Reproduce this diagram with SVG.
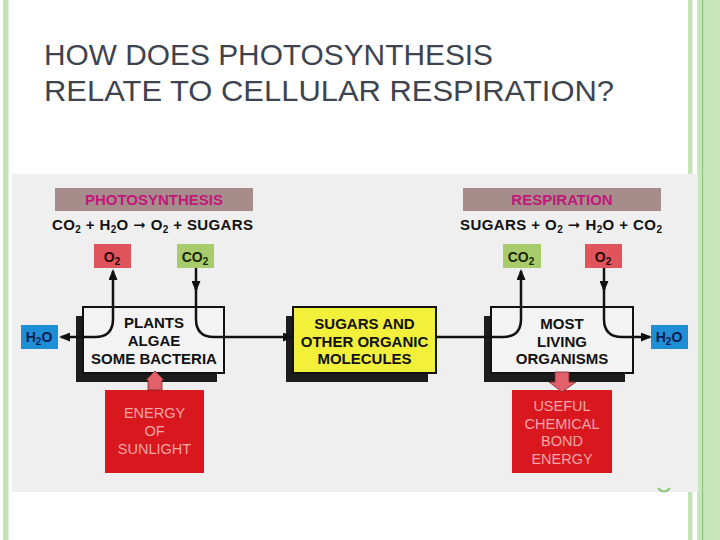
<svg xmlns="http://www.w3.org/2000/svg" width="720" height="540" viewBox="0 0 720 540">
  <defs>
    <marker id="ah" markerUnits="userSpaceOnUse" markerWidth="11" markerHeight="9" refX="9" refY="4.5" orient="auto-start-reverse">
      <path d="M0,0 L11,4.5 L0,9 Z" fill="#111"/>
    </marker>
    <style>
      .title { font-family: "Liberation Sans", Arial, sans-serif; font-size: 30px; fill: #3d4450; }
      .lbl { font-family: "Liberation Sans", Arial, sans-serif; font-weight: bold; font-size: 15px; fill: #111; text-anchor: middle; }
      .eq { font-family: "Liberation Sans", "DejaVu Sans", Arial, sans-serif; font-weight: bold; font-size: 15px; fill: #111; }
      .sub { font-size: 10px; }
      .arr { font-family: "DejaVu Sans", sans-serif; font-size: 15px; }
      .ban { fill: #a78c8c; }
      .bantxt { font-family: "Liberation Sans", Arial, sans-serif; font-weight: bold; font-size: 15px; fill: #c2177a; text-anchor: middle; }
      .small { font-family: "Liberation Sans", Arial, sans-serif; font-weight: bold; font-size: 14px; text-anchor: middle; }
      .o2 { fill: #e0545c; }
      .co2 { fill: #a8cb6c; }
      .h2o { fill: #1e8fd6; }
      .box { fill: #f3f3f3; stroke: #111; stroke-width: 2; }
      .shadow { fill: #1c1c1c; }
      .red { fill: #d8171f; }
      .redtxt { font-family: "Liberation Sans", Arial, sans-serif; font-size: 14.5px; fill: #f5a6a6; text-anchor: middle; }
      .conn { fill: none; stroke: #111; stroke-width: 2.5; }
      .blk { fill: #e1606a; stroke: #7a2a30; stroke-width: 0.8; }
    </style>
  </defs>

  <rect x="0" y="0" width="720" height="540" fill="#ffffff"/>
  <!-- slide decorations -->
  <rect x="3" y="0" width="5.5" height="540" fill="#c4e2b4"/>
  <rect x="688" y="0" width="4.5" height="540" fill="#c6e4b8"/>
  <rect x="697" y="0" width="23" height="540" fill="#c8e6bc"/>
  <rect x="702" y="0" width="1.2" height="540" fill="#8fc67e"/>

  <!-- title -->
  <g id="title">
    <text class="title" x="44" y="65" textLength="449" lengthAdjust="spacingAndGlyphs">HOW DOES PHOTOSYNTHESIS</text>
    <text class="title" x="44" y="101" textLength="570" lengthAdjust="spacingAndGlyphs">RELATE TO CELLULAR RESPIRATION?</text>
  </g>

  <!-- picture background -->
  <rect x="12" y="174" width="686" height="318" fill="#efefef"/>

  <!-- photosynthesis header -->
  <g id="photosynthesis-header">
    <rect class="ban" x="55" y="188" width="198" height="23"/>
    <text class="bantxt" x="154" y="205">PHOTOSYNTHESIS</text>
    <text class="eq" x="52" y="230" textLength="201" lengthAdjust="spacing">CO<tspan class="sub" dy="3">2</tspan><tspan dy="-3"> + H</tspan><tspan class="sub" dy="3">2</tspan><tspan dy="-3">O </tspan><tspan class="arr">➞</tspan><tspan> O</tspan><tspan class="sub" dy="3">2</tspan><tspan dy="-3"> + SUGARS</tspan></text>
  </g>

  <!-- respiration header -->
  <g id="respiration-header">
    <rect class="ban" x="463" y="188" width="198" height="23"/>
    <text class="bantxt" x="562" y="205">RESPIRATION</text>
    <text class="eq" x="460" y="230" textLength="202" lengthAdjust="spacing">SUGARS + O<tspan class="sub" dy="3">2</tspan><tspan dy="-3"> </tspan><tspan class="arr">➞</tspan><tspan> H</tspan><tspan class="sub" dy="3">2</tspan><tspan dy="-3">O + CO</tspan><tspan class="sub" dy="3">2</tspan></text>
  </g>

  <!-- small boxes -->
  <g id="o2-left">
    <rect class="o2" x="94" y="244" width="37" height="24"/>
    <text class="small" x="112" y="262" fill="#2a0808">O<tspan class="sub" dy="3">2</tspan></text>
  </g>
  <g id="co2-left">
    <rect class="co2" x="177" y="244" width="37" height="24"/>
    <text class="small" x="195" y="262" fill="#1a2608">CO<tspan class="sub" dy="3">2</tspan></text>
  </g>
  <g id="co2-right">
    <rect class="co2" x="503" y="244" width="38" height="24"/>
    <text class="small" x="521" y="262" fill="#1a2608">CO<tspan class="sub" dy="3">2</tspan></text>
  </g>
  <g id="o2-right">
    <rect class="o2" x="585" y="244" width="37" height="24"/>
    <text class="small" x="603" y="262" fill="#2a0808">O<tspan class="sub" dy="3">2</tspan></text>
  </g>
  <g id="h2o-left">
    <rect class="h2o" x="21" y="325" width="37" height="24"/>
    <text class="small" x="39" y="342" fill="#0a2050">H<tspan class="sub" dy="3">2</tspan><tspan dy="-3">O</tspan></text>
  </g>
  <g id="h2o-right">
    <rect class="h2o" x="651" y="325" width="37" height="24"/>
    <text class="small" x="669" y="342" fill="#0a2050">H<tspan class="sub" dy="3">2</tspan><tspan dy="-3">O</tspan></text>
  </g>

  <!-- main boxes -->
  <g id="plants">
    <rect class="shadow" x="76" y="316" width="141" height="66"/>
    <rect class="box" x="83" y="307" width="141" height="66"/>
    <text class="lbl" x="154" y="328">PLANTS</text>
    <text class="lbl" x="154" y="346">ALGAE</text>
    <text class="lbl" x="154" y="364">SOME BACTERIA</text>
  </g>
  <g id="sugars">
    <rect class="shadow" x="286" y="316" width="142" height="66"/>
    <rect x="293" y="307" width="143" height="66" fill="#f3f03c" stroke="#111" stroke-width="2"/>
    <text class="lbl" x="364.5" y="329">SUGARS AND</text>
    <text class="lbl" x="364.5" y="346.5">OTHER ORGANIC</text>
    <text class="lbl" x="364.5" y="364">MOLECULES</text>
  </g>
  <g id="organisms">
    <rect class="shadow" x="484" y="316" width="141" height="66"/>
    <rect class="box" x="491" y="307" width="142" height="66"/>
    <text class="lbl" x="562" y="329">MOST</text>
    <text class="lbl" x="562" y="346.5">LIVING</text>
    <text class="lbl" x="562" y="364">ORGANISMS</text>
  </g>

  <!-- energy boxes -->
  <g id="sunlight">
    <rect class="red" x="105" y="390" width="99" height="83"/>
    <text class="redtxt" x="154.5" y="418">ENERGY</text>
    <text class="redtxt" x="154.5" y="436">OF</text>
    <text class="redtxt" x="154.5" y="454">SUNLIGHT</text>
  </g>
  <g id="chemical-energy">
    <rect class="red" x="512" y="390" width="100" height="83"/>
    <text class="redtxt" x="562" y="411">USEFUL</text>
    <text class="redtxt" x="562" y="428.5">CHEMICAL</text>
    <text class="redtxt" x="562" y="446">BOND</text>
    <text class="redtxt" x="562" y="463.5">ENERGY</text>
  </g>

  <!-- connectors (drawn over the boxes) -->
  <g id="connectors">
    <path class="conn" d="M61,337 H95 Q113,337 113,319 V271" marker-start="url(#ah)" marker-end="url(#ah)"/>
    <path class="conn" d="M196,268 V290" marker-end="url(#ah)"/>
    <path class="conn" d="M196,288 V319 Q196,337 214,337 H292" marker-end="url(#ah)"/>
    <path class="conn" d="M436,337 H503 Q521,337 521,319 V271" marker-end="url(#ah)"/>
    <path class="conn" d="M604,268 V290" marker-end="url(#ah)"/>
    <path class="conn" d="M604,288 V319 Q604,337 622,337 H650" marker-end="url(#ah)"/>
    <!-- block arrows -->
    <path class="blk" d="M148,390 V380 H146 L155,371 L164,380 H162 V390 Z"/>
    <path class="blk" d="M555,372 V382 H549 L562,392 L576,382 H569 V372 Z"/>
  </g>

  <!-- small green arc from template -->
  <path d="M658,488 Q664,495 670,488" fill="none" stroke="#8fc67e" stroke-width="2"/>
</svg>
